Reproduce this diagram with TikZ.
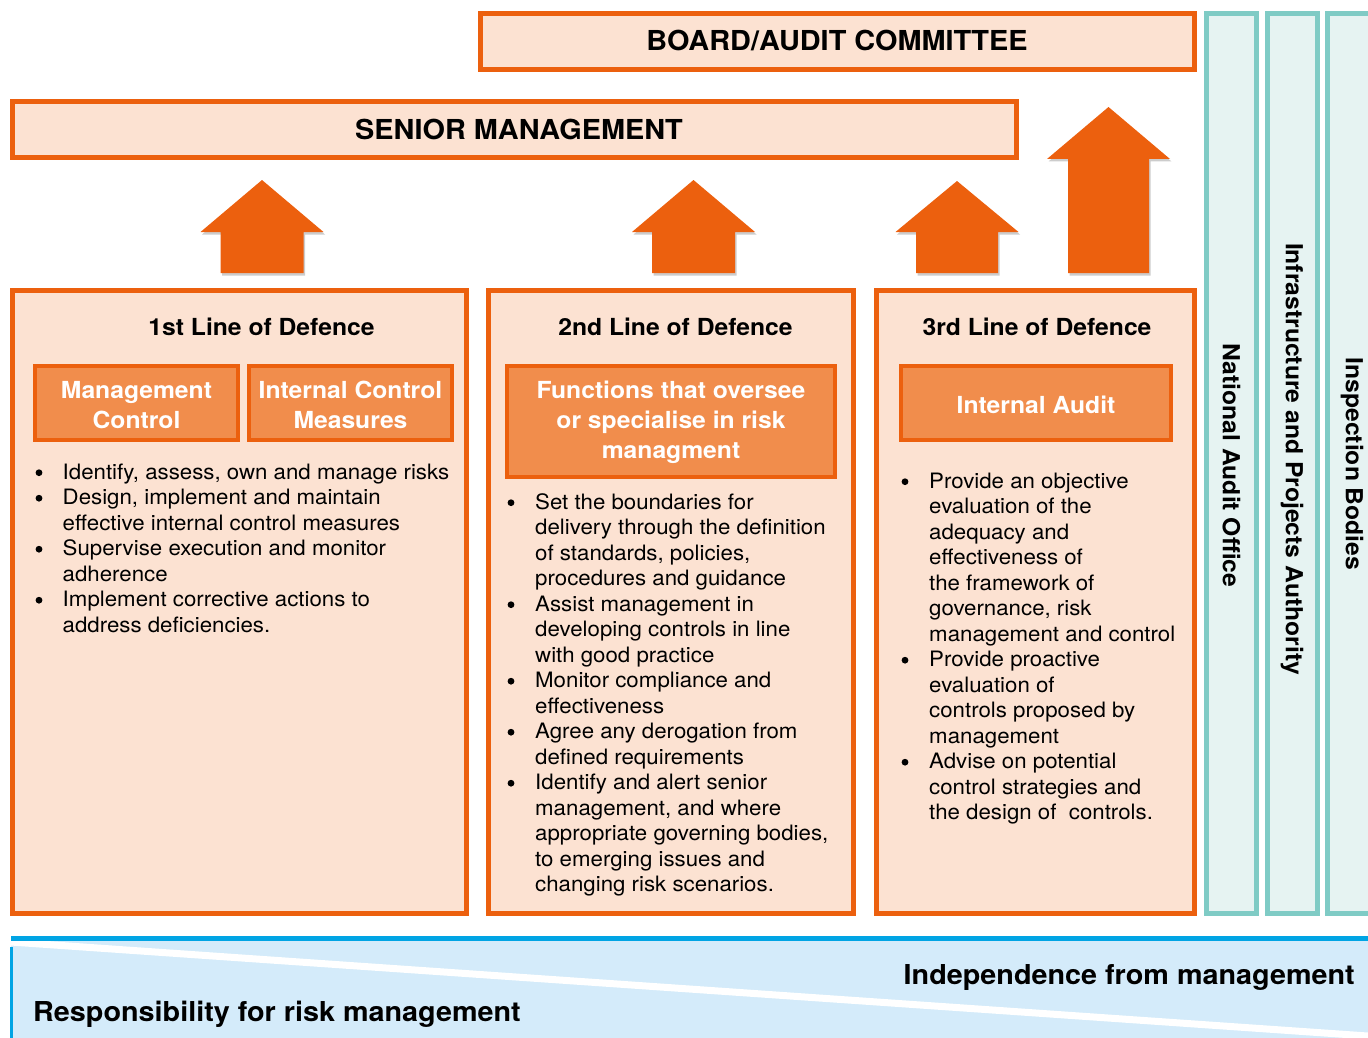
\documentclass[tikz,border=0pt]{standalone}
\usepackage{fontspec}
\setmainfont[FakeStretch=1.05]{TeX Gyre Heros}
\definecolor{orD}{RGB}{236,96,14}
\definecolor{peach}{RGB}{252,226,210}
\definecolor{orM}{RGB}{241,141,76}
\definecolor{tealD}{RGB}{127,203,197}
\definecolor{tealL}{RGB}{230,243,242}
\definecolor{bblue}{RGB}{0,164,228}
\definecolor{lblue}{RGB}{212,235,250}
\newcommand\blockarr[6]{%
  \fill[gray!40,xshift=1.5pt,yshift=-2.5pt] ({#1-#5},#6) -- ({#1-#5},#4) -- ({#1-#3},#4) -- (#1,#2) -- ({#1+#3},#4) -- ({#1+#5},#4) -- ({#1+#5},#6) -- cycle;
  \fill[orD] ({#1-#5},#6) -- ({#1-#5},#4) -- ({#1-#3},#4) -- (#1,#2) -- ({#1+#3},#4) -- ({#1+#5},#4) -- ({#1+#5},#6) -- cycle;
}
\begin{document}
\begin{tikzpicture}[x=1pt,y=-1pt,
  outerbox/.style={draw=orD, fill=peach, line width=5pt, inner sep=0pt, outer sep=0pt},
  innerbox/.style={draw=orD, fill=orM, line width=4pt, inner sep=0pt, outer sep=0pt},
  tealbar/.style={draw=tealD, fill=tealL, line width=5pt, inner sep=0pt, outer sep=0pt},
  bigtxt/.style={font=\fontsize{27.5}{30}\selectfont\bfseries, anchor=base, inner sep=0pt},
  ttl/.style={font=\fontsize{23.5}{28}\selectfont\bfseries, anchor=base, inner sep=0pt},
  intxt/.style={font=\fontsize{23.5}{30}\selectfont\bfseries, text=white, anchor=base, align=center, inner sep=0pt},
  vtxt/.style={font=\fontsize{23.5}{28}\selectfont\bfseries, rotate=-90, inner sep=0pt},
  bul/.style={circle, fill=black, inner sep=0pt, minimum size=6.8pt, yshift=6.6pt},
  itm/.style={font=\fontsize{21.2}{25.5}\selectfont, anchor=base west, align=left, inner sep=0pt},
  bottxt/.style={font=\fontsize{27.4}{30}\selectfont\bfseries, inner sep=0pt}
]
\useasboundingbox (0,0) rectangle (1368,1038);

% top boxes
\node[outerbox, minimum width=714pt, minimum height=56pt] (board) at (837.5,41.5) {};
\node[bigtxt] (boardt) at (837,51) {BOARD/AUDIT COMMITTEE};
\node[outerbox, minimum width=1004pt, minimum height=56pt] (senior) at (514.5,129.5) {};
\node[bigtxt] (seniort) at (519,139.5) {SENIOR MANAGEMENT};

% teal bars
\node[tealbar, minimum width=50pt, minimum height=900pt] (bar1) at (1231.5,463.5) {};
\node[tealbar, minimum width=50pt, minimum height=900pt] (bar2) at (1292.5,463.5) {};
\node[tealbar, minimum width=57.5pt, minimum height=900pt] (bar3) at (1356.25,463.5) {};
\node[vtxt] (nao) at (1231.5,465.5) {National Audit Office};
\node[vtxt] (ipa) at (1292,459) {Infrastructure and Projects Authority};
\node[vtxt] (ib) at (1352,464) {Inspection Bodies};

% arrows
\blockarr{262}{180}{61.5}{232}{41.5}{273}
\blockarr{693.5}{180}{61.5}{232}{41.5}{273}
\blockarr{957}{181}{61.5}{232}{41}{273}
\blockarr{1108.5}{107}{61.5}{159}{40.5}{273}

% line boxes
\node[outerbox, minimum width=454pt, minimum height=623pt] (l1) at (239.5,602) {};
\node[outerbox, minimum width=365pt, minimum height=623pt] (l2) at (671,602) {};
\node[outerbox, minimum width=318pt, minimum height=623pt] (l3) at (1035.5,602) {};
\node[ttl] (l1t) at (261.5,335) {1st Line of Defence};
\node[ttl] (l2t) at (675.5,335) {2nd Line of Defence};
\node[ttl] (l3t) at (1037,335) {3rd Line of Defence};

% inner boxes
\node[innerbox, minimum width=203pt, minimum height=74pt] (mc) at (136.5,403) {};
\node[innerbox, minimum width=203pt, minimum height=74pt] (icm) at (350.5,403) {};
\node[innerbox, minimum width=328pt, minimum height=111pt] (fo) at (671,421.5) {};
\node[innerbox, minimum width=270pt, minimum height=74pt] (ia) at (1036,403) {};
\node[intxt] (mct) at (136.5,428.3) {Management\\Control};
\node[intxt] (icmt) at (350.5,428.3) {Internal Control\\Measures};
\node[intxt] (fot) at (671,458.3) {Functions that oversee\\or specialise in risk\\managment};
\node[intxt] (iat) at (1036,413.3) {Internal Audit};

% box 1 bullets (text nodes placed at last-line baseline)
\node[bul] (b1a) at (39,479.3) {};
\node[itm] (t1a) at (62.5,479.3) {Identify, assess, own and manage risks};
\node[bul] (b1b) at (39,504.8) {};
\node[itm] (t1b) at (62.5,530.3) {Design, implement and maintain\\effective internal control measures};
\node[bul] (b1c) at (39,555.8) {};
\node[itm] (t1c) at (62.5,581.3) {Supervise execution and monitor\\adherence};
\node[bul] (b1d) at (39,606.8) {};
\node[itm] (t1d) at (62.5,632.3) {Implement corrective actions to\\address deficiencies.};

% box 2 bullets
\node[bul] (b2a) at (511,509.3) {};
\node[itm] (t2a) at (535,585.8) {Set the boundaries for\\delivery through the definition\\of standards, policies,\\procedures and guidance};
\node[bul] (b2b) at (511,611.3) {};
\node[itm] (t2b) at (535,662.3) {Assist management in\\developing controls in line\\with good practice};
\node[bul] (b2c) at (511,687.8) {};
\node[itm] (t2c) at (535,713.3) {Monitor compliance and\\effectiveness};
\node[bul] (b2d) at (511,738.8) {};
\node[itm] (t2d) at (535,764.3) {Agree any derogation from\\defined requirements};
\node[bul] (b2e) at (511,789.8) {};
\node[itm] (t2e) at (535,891.8) {Identify and alert senior\\management, and where\\appropriate governing bodies,\\to emerging issues and\\changing risk scenarios.};

% box 3 bullets
\node[bul] (b3a) at (905,488.3) {};
\node[itm] (t3a) at (929,641.3) {Provide an objective\\evaluation of the\\adequacy and\\effectiveness of\\the framework of\\governance, risk\\management and control};
\node[bul] (b3b) at (905,666.8) {};
\node[itm] (t3b) at (929,743.3) {Provide proactive\\evaluation of\\controls proposed by\\management};
\node[bul] (b3c) at (905,768.8) {};
\node[itm] (t3c) at (929,819.8) {Advise on potential\\control strategies and\\the design of\ \ controls.};

% bottom band
\fill[lblue] (11,941) rectangle (1368,1038);
\draw[white, line width=7pt] (8,941.8) -- (1375,1036.5);
\draw[bblue, line width=5pt] (11,938.5) -- (1368,938.5);
\draw[bblue, line width=3.5pt] (11.5,947) -- (11.5,1038);
\node[bottxt, anchor=base east] (indep) at (1355,984) {Independence from management};
\node[bottxt, anchor=base west] (resp) at (33,1021) {Responsibility for risk management};
\end{tikzpicture}
\end{document}
